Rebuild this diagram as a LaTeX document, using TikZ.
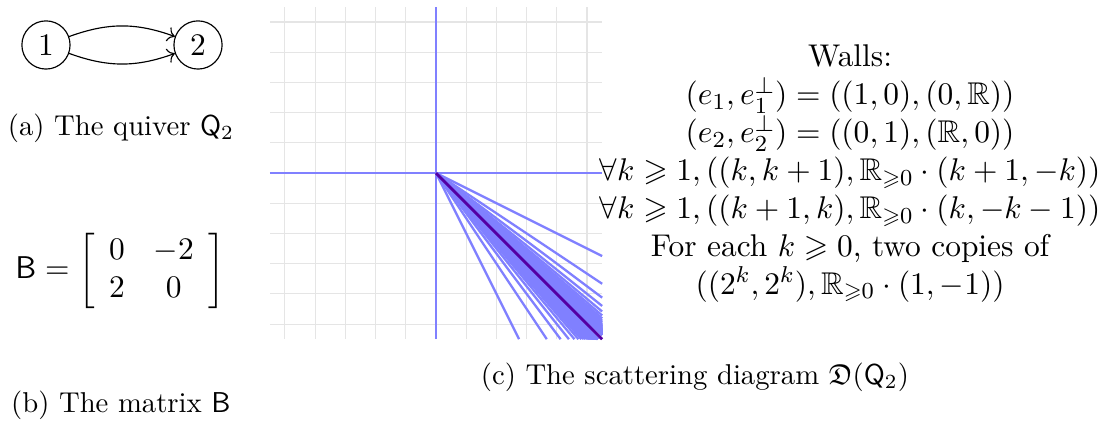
\documentclass[tikz,border=0pt]{standalone}
\usepackage{amssymb,amsmath}
\usepackage{tikz}
\usetikzlibrary{arrows.meta}
\definecolor{wallblue}{rgb}{0.5,0.5,1}
\definecolor{wallpurple}{rgb}{0.33,0,0.64}

\begin{document}
\begin{tikzpicture}[font=\fontsize{10.95}{13.2}\selectfont,
		vertex/.style={draw, circle, inner sep=2.8pt},
		capt/.style={font=\normalsize},
		wall/.style={wallblue, line width=0.8pt}]
		\useasboundingbox (0,0) rectangle (13.495,5.266);
		% (a) the quiver
		\node[vertex] (n1) at (0.563,4.715) {$1$};
		\node[vertex] (n2) at (2.425,4.715) {$2$};
		\draw[->] (n1) to[bend left=20] (n2);
		\draw[->] (n1) to[bend right=20] (n2);
		\node[capt] (capa) at (1.482,3.698) {(a) The quiver $\mathsf{Q}_2$};
		% (b) the matrix
		\node (matB) at (1.47,1.947) {$\mathsf{B}=\left[\begin{array}{cc}0&-2\\2&0\end{array}\right]$};
		\node[capt] (capb) at (1.48,0.306) {(b) The matrix $\mathsf{B}$};
		% (c) scattering diagram: grid, the two axes, then the walls
		\begin{scope}[shift={(5.339,3.147)}, scale=0.37]
			\draw[gray!20, step=1] (-5.5,-5.5) grid (5.5,5.5);
			\draw[wall, line width=1pt] (0,-5.5) -- (0,5.5);
			\draw[wall, line width=1pt] (-5.5,0) -- (5.5,0);
			\foreach \k in {1,...,40} {
				\draw[wall] (0,0) -- (5.5,{-5.5*\k/(\k+1)});
				\draw[wall] (0,0) -- ({5.5*\k/(\k+1)},-5.5);
			}
			\draw[wallpurple, line width=1pt] (0,0) -- (5.5,-5.5);
		\end{scope}
		\node[align=center] (walls) at (10.41,3.141) {Walls:\\
			$(e_1,e_1^{\perp})=((1,0),(0,\mathbb{R}))$\\
			$(e_2,e_2^{\perp})=((0,1),(\mathbb{R},0))$\\
			$\forall k\geqslant 1,((k,k+1),\mathbb{R}_{\geqslant 0}\cdot(k+1,-k))$\\
			$\forall k\geqslant 1,((k+1,k),\mathbb{R}_{\geqslant 0}\cdot(k,-k-1))$\\
			For each $k\geqslant 0$, two copies of\\
			$((2^k,2^k),\mathbb{R}_{\geqslant 0}\cdot(1,-1))$};
		\node[capt] (capc) at (8.51,0.649) {(c) The scattering diagram $\mathfrak{D}(\mathsf{Q}_2)$};
	\end{tikzpicture}
\end{document}
